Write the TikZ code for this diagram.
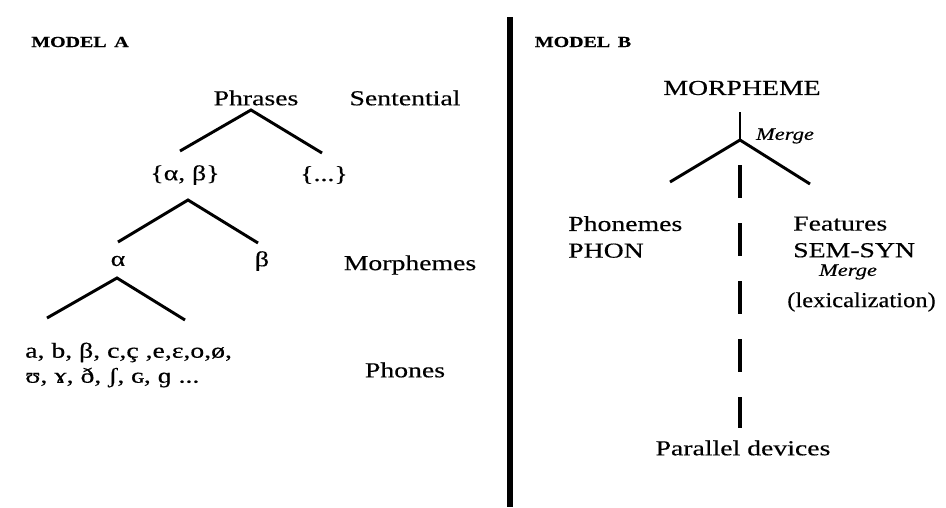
\documentclass[tikz,border=0pt]{standalone}
\usepackage{fontspec}
\setmainfont{Liberation Serif}[FakeStretch=1.3,FakeBold=0.4]
\newfontfamily\narrowfont{Liberation Serif}[FakeStretch=1.15,FakeBold=0.4]
\usetikzlibrary{positioning,calc}

\begin{document}
\begin{tikzpicture}
[x=0.75pt,y=-0.75pt,
every node/.style={inner sep=0pt,font=\fontsize{16}{20}\selectfont},
title/.style={font=\fontsize{11.5}{12}\selectfont\bfseries},
merge/.style={font=\fontsize{13}{14}\selectfont\itshape},
branch/.style={draw,line width=2.2pt},
divider/.style={draw,line width=3.8pt},
device/.style={draw,line width=3pt,dash pattern=on 24.75pt off 18.75pt}]
\useasboundingbox (0,0) rectangle (946,507);

% model A
\node[title] (modela) at (80,42) {MODEL\hspace{0.5em}A};
\node (phrases) at (256,98) {Phrases};
\node (sentential) at (405,98) {Sentential};
\node (set) at (185,175) {\{α, β\}};
\node (rest) at (324,175) {\{...\}};
\node (alpha) at (118,261) {α};
\node (beta) at (262,261) {β};
\node (morphemes) at (410,265) {Morphemes};
\node[anchor=west,align=left,font=\fontsize{16}{18.75}\selectfont] (phones) at (25,365)
  {a, b, β, c,ç ,e,ɛ,o,ø,\\ʊ, ɤ, ð, ʃ, ɢ, ɡ ...};
\node (phoneslabel) at (405,370) {Phones};

\coordinate (a1) at (251,110);
\coordinate (a2) at (188,200);
\coordinate (a3) at (117,278);
\draw[branch] (180,151) -- (a1) -- (322,153);
\draw[branch] (118,242) -- (a2) -- (258,243);
\draw[branch] (47,318) -- (a3) -- (185,320);

% divider
\draw[divider] (510,17) -- (510,507);

% model B
\node[title] (modelb) at (583,42) {MODEL\hspace{0.5em}B};
\node (morpheme) at (742,88) {MORPHEME};
\node[merge] (merge) at (785,136) {Merge};
\coordinate (b0) at (740,112);
\coordinate (b1) at (740,140);
\draw[branch] (b0) -- (b1);
\draw[branch] (670,182) -- (b1) -- (810,184);

\node[anchor=west,align=left] (phonemes) at (568,237) {Phonemes\\PHON};
\node[anchor=west,align=left] (features) at (793,237) {Features\\SEM-SYN};
\node[merge] (merge2) at (848,272) {Merge};
\node[anchor=west,font=\fontsize{16}{20}\narrowfont] (lex) at (787,302) {(lexicalization)};
\node (devices) at (743,448) {Parallel devices};
\coordinate (d0) at (740,165);
\coordinate (d1) at (740,428);
\draw[device] (d0) -- (d1);
\end{tikzpicture}
\end{document}
